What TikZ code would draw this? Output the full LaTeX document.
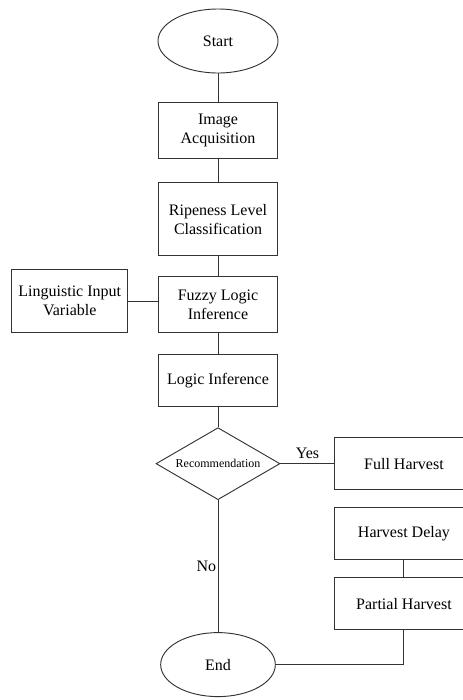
\documentclass[tikz,border=0pt]{standalone}
\usepackage{fontspec}
\setmainfont{Liberation Serif}
\usetikzlibrary{positioning,shapes.geometric}

\begin{document}
\begin{tikzpicture}[
      %style for connectors
      conn/.style={draw=black!80, line width=0.7pt},
      %style for process boxes
      proc/.style={rectangle, draw=black!80, line width=0.7pt, minimum width=89pt, align=center, font=\fontsize{12}{14}\selectfont},
      %style for start and end
      term/.style={ellipse, draw=black!80, line width=0.7pt, inner sep=0pt, font=\fontsize{12}{14}\selectfont},
      %style for the decision
      dec/.style={diamond, aspect=1.72, draw=black!80, line width=0.7pt, inner sep=0pt, minimum width=93pt, minimum height=54pt, font=\fontsize{9}{11}\selectfont}]

      \useasboundingbox (0,0) rectangle (346.5pt,-525pt);

      %main column
      \node[term, minimum width=90pt, minimum height=48pt] (start) at (163.5pt,-30.75pt) {Start};
      \node[proc, minimum height=42pt, below=21.5pt of start] (acquisition) {Image\\Acquisition};
      \node[proc, minimum height=54.5pt, below=17.5pt of acquisition] (ripeness) {Ripeness Level\\Classification};
      \node[proc, minimum height=42pt, below=15pt of ripeness] (fuzzy) {Fuzzy Logic\\Inference};
      \node[proc, minimum height=39.5pt, below=15.5pt of fuzzy] (inference) {Logic Inference};
      \node[dec, below=15pt of inference] (recommend) {Recommendation};
      \node[term, minimum width=86pt, minimum height=48pt, below=99pt of recommend] (finish) {End};

      %side boxes
      \node[proc, minimum width=87pt, minimum height=47pt, left=22.5pt of fuzzy, yshift=2.5pt] (linguistic) {Linguistic Input\\Variable};
      \node[proc, minimum width=103.5pt, minimum height=39pt, right=40.5pt of recommend] (full) {Full Harvest};
      \node[proc, minimum width=103.5pt, minimum height=39pt, below=12.5pt of full] (delay) {Harvest Delay};
      \node[proc, minimum width=103.5pt, minimum height=39pt, below=13pt of delay] (partial) {Partial Harvest};

      %edges
      \draw[conn] (start) -- (acquisition);
      \draw[conn] (acquisition) -- (ripeness);
      \draw[conn] (ripeness) -- (fuzzy);
      \draw[conn] (linguistic) -- (linguistic -| fuzzy.west);
      \draw[conn] (fuzzy) -- (inference);
      \draw[conn] (inference) -- (recommend);
      \draw[conn] (recommend) -- node[above, font=\fontsize{12}{14}\selectfont]{Yes} (full);
      \draw[conn] (recommend) -- node[left, inner sep=1pt, font=\fontsize{12}{14}\selectfont]{No} (finish);
      \draw[conn] (delay) -- (partial);
      \draw[conn] (partial) |- (finish);
\end{tikzpicture}
\end{document}
